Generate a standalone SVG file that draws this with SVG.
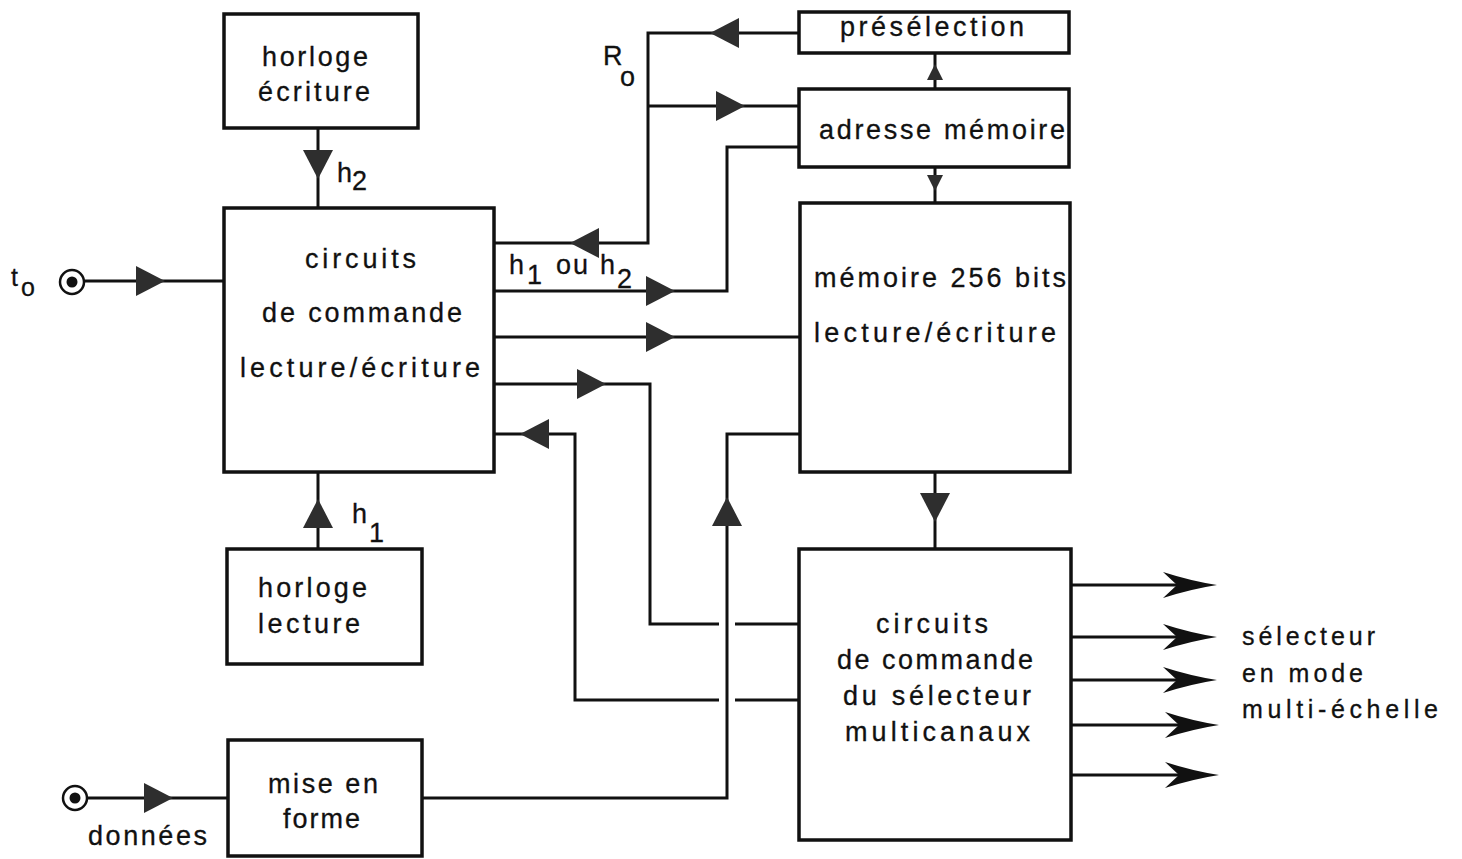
<svg xmlns="http://www.w3.org/2000/svg" width="1462" height="859" viewBox="0 0 1462 859">
<style>
.box{fill:none;stroke:#111;stroke-width:3.5}
.ln{fill:none;stroke:#111;stroke-width:3}
.t{font-family:"Liberation Sans",Arial,sans-serif;font-size:27px;fill:#111;stroke:#111;stroke-width:0.3}
.s{font-family:"Liberation Sans",Arial,sans-serif;font-size:25px;fill:#111;stroke:#111;stroke-width:0.3}
.ah{fill:#2e2e2e}
</style>
<defs>
<path id="ar" d="M0,0 L-29,-15 L-29,15 Z"/>
<path id="sa" d="M0,0 L-16,-8 L-16,8 Z"/>
<path id="oa" d="M0,0 Q-26,-4 -54,-13 L-40,0 L-54,13 Q-26,4 0,0 Z"/>
</defs>
<rect width="1462" height="859" fill="#fff"/>

<g id="connectors">
<path class="ln" d="M85,281 H224"/>
<path class="ln" d="M318,128 V208"/>
<path class="ln" d="M318,549 V472"/>
<path class="ln" d="M87,798 H228"/>
<path class="ln" d="M799,33 H648 V243 H494"/>
<path class="ln" d="M648,106 H799"/>
<path class="ln" d="M799,147 H727 V291 H494"/>
<path class="ln" d="M494,337 H800"/>
<path class="ln" d="M494,384 H650 V624 H719"/>
<path class="ln" d="M735,624 H799"/>
<path class="ln" d="M494,434 H575 V700 H719"/>
<path class="ln" d="M735,700 H799"/>
<path class="ln" d="M800,434 H727 V798 H422"/>
<path class="ln" d="M935,53 V89"/>
<path class="ln" d="M935,167 V203"/>
<path class="ln" d="M935,472 V549"/>
<path class="ln" d="M1071,585 H1200"/>
<path class="ln" d="M1071,637 H1200"/>
<path class="ln" d="M1071,680 H1200"/>
<path class="ln" d="M1071,725 H1200"/>
<path class="ln" d="M1071,775 H1200"/>
<g class="ah">
<use href="#ar" transform="translate(165,281)"/>
<use href="#ar" transform="translate(173,798)"/>
<use href="#ar" transform="translate(745,106)"/>
<use href="#ar" transform="translate(675,291)"/>
<use href="#ar" transform="translate(675,337)"/>
<use href="#ar" transform="translate(606,384)"/>
<use href="#ar" transform="translate(710,33) rotate(180)"/>
<use href="#ar" transform="translate(570,243) rotate(180)"/>
<use href="#ar" transform="translate(520,434) rotate(180)"/>
<use href="#ar" transform="translate(318,179) rotate(90)"/>
<use href="#ar" transform="translate(935,522) rotate(90)"/>
<use href="#ar" transform="translate(318,499) rotate(-90)"/>
<use href="#ar" transform="translate(727,497) rotate(-90)"/>
<use href="#sa" transform="translate(935,64) rotate(-90)"/>
<use href="#sa" transform="translate(935,191) rotate(90)"/>
</g>
<g fill="#111">
<use href="#oa" transform="translate(1217,585)"/>
<use href="#oa" transform="translate(1217,637)"/>
<use href="#oa" transform="translate(1217,680)"/>
<use href="#oa" transform="translate(1219,725)"/>
<use href="#oa" transform="translate(1219,775)"/>
</g>
</g>

<g id="input-t0">
<circle cx="72" cy="282" r="12" fill="none" stroke="#111" stroke-width="2.5"/>
<circle cx="72" cy="282" r="5.5" fill="#111"/>
<text class="s" x="11" y="286" font-size="24">t</text>
<text class="s" x="21" y="296" font-size="24">o</text>
</g>

<g id="input-donnees">
<circle cx="75" cy="798" r="12" fill="none" stroke="#111" stroke-width="2.5"/>
<circle cx="75" cy="798" r="5.5" fill="#111"/>
<text class="t" x="88" y="845" textLength="119" lengthAdjust="spacing">données</text>
</g>

<g id="horloge-ecriture">
<rect class="box" x="224" y="14" width="194" height="114"/>
<text class="t" x="262" y="66" textLength="106" lengthAdjust="spacing">horloge</text>
<text class="t" x="258" y="101" textLength="112" lengthAdjust="spacing">écriture</text>
<text class="t" x="337" y="182" font-size="26">h</text>
<text class="t" x="352" y="190" font-size="25">2</text>
</g>

<g id="circuits-commande">
<rect class="box" x="224" y="208" width="270" height="264"/>
<text class="t" x="305" y="268" textLength="111" lengthAdjust="spacing">circuits</text>
<text class="t" x="262" y="322" textLength="200" lengthAdjust="spacing">de commande</text>
<text class="t" x="240" y="377" textLength="240" lengthAdjust="spacing">lecture/écriture</text>
</g>

<g id="horloge-lecture">
<rect class="box" x="227" y="549" width="195" height="115"/>
<text class="t" x="258" y="597" textLength="109" lengthAdjust="spacing">horloge</text>
<text class="t" x="258" y="633" textLength="102" lengthAdjust="spacing">lecture</text>
<text class="t" x="352" y="523" font-size="26">h</text>
<text class="t" x="369" y="542" font-size="20">1</text>
</g>

<g id="mise-en-forme">
<rect class="box" x="228" y="740" width="194" height="116"/>
<text class="t" x="268" y="793" textLength="110" lengthAdjust="spacing">mise en</text>
<text class="t" x="283" y="828" textLength="77" lengthAdjust="spacing">forme</text>
</g>

<g id="preselection">
<rect class="box" x="799" y="12" width="270" height="41"/>
<text class="t" x="840" y="36" textLength="184" lengthAdjust="spacing">présélection</text>
<text class="t" x="603" y="65" font-size="26">R</text>
<text class="t" x="620" y="86" font-size="26">o</text>
</g>

<g id="adresse-memoire">
<rect class="box" x="799" y="89" width="270" height="78"/>
<text class="t" x="819" y="139" textLength="246" lengthAdjust="spacing">adresse mémoire</text>
</g>

<g id="memoire">
<rect class="box" x="800" y="203" width="270" height="269"/>
<text class="t" x="814" y="287" textLength="252" lengthAdjust="spacing">mémoire 256 bits</text>
<text class="t" x="814" y="342" textLength="242" lengthAdjust="spacing">lecture/écriture</text>
</g>

<g id="label-h1h2">
<text class="t" x="509" y="274" font-size="26">h</text>
<text class="t" x="527" y="284" font-size="20">1</text>
<text class="t" x="556" y="274" font-size="26" textLength="32" lengthAdjust="spacing">ou</text>
<text class="t" x="600" y="274" font-size="26">h</text>
<text class="t" x="617" y="288" font-size="25">2</text>
</g>

<g id="selecteur">
<rect class="box" x="799" y="549" width="272" height="291"/>
<text class="t" x="876" y="633" textLength="112" lengthAdjust="spacing">circuits</text>
<text class="t" x="837" y="669" textLength="196" lengthAdjust="spacing">de commande</text>
<text class="t" x="843" y="705" textLength="188" lengthAdjust="spacing">du sélecteur</text>
<text class="t" x="845" y="741" textLength="185" lengthAdjust="spacing">multicanaux</text>
</g>

<g id="sortie-label">
<text class="s" x="1242" y="645" textLength="133" lengthAdjust="spacing">sélecteur</text>
<text class="s" x="1242" y="682" textLength="121" lengthAdjust="spacing">en mode</text>
<text class="s" x="1242" y="718" textLength="196" lengthAdjust="spacing">multi-échelle</text>
</g>
</svg>
